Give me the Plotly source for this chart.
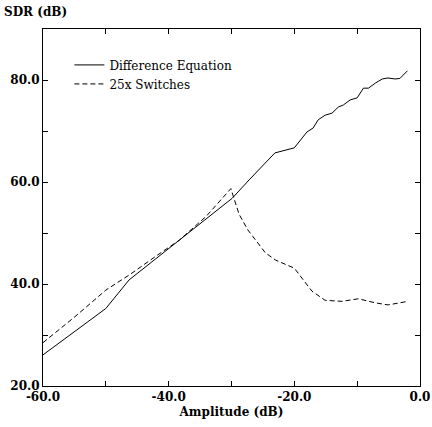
import plotly.graph_objects as go

# Difference Equation (solid)
diff_x = [-60, -50, -46.3, -38.3, -34.6, -29.9, -27.2, -23.1, -20, -18, -17, -16.2, -15.1, -14, -13,
          -12.2, -11.1, -10, -9, -8.2, -7.1, -6, -5.1, -4, -3.2, -2]
diff_y = [26.1, 35.2, 40.8, 48.6, 52.3, 56.8, 60.4, 65.7, 66.7, 69.8, 70.6, 72.2, 73.1, 73.5, 74.7,
          75.1, 76.1, 76.5, 78.4, 78.4, 79.4, 80.2, 80.4, 80.2, 80.3, 81.8]

# 25x Switches (dashed)
sw_x = [-60, -55, -50, -46, -42.1, -38.3, -34, -30.1, -28.8, -27.4, -24.6, -23, -20, -17.2, -15.1,
        -12.4, -9.8, -7.1, -5.1, -1.9]
sw_y = [28.5, 33.5, 38.8, 42.0, 45.4, 48.6, 53.3, 58.7, 53.7, 50.6, 46.1, 44.7, 43.1, 38.6, 36.8,
        36.6, 37.1, 36.3, 35.9, 36.6]

x_ticks = [-60, -50, -40, -30, -20, -10, 0]
x_labels = ["<b>-60.0</b>", "", "<b>-40.0</b>", "", "<b>-20.0</b>", "", "<b>0.0</b>"]
y_ticks = [20, 30, 40, 50, 60, 70, 80, 90]
y_labels = ["<b>20.0</b>", "", "<b>40.0</b>", "", "<b>60.0</b>", "", "<b>80.0</b>", ""]

font_family = "DejaVu Serif"

fig = go.Figure()
fig.add_trace(go.Scatter(x=diff_x, y=diff_y, mode="lines", name="Difference Equation",
                         line=dict(color="black", width=1)))
fig.add_trace(go.Scatter(x=sw_x, y=sw_y, mode="lines", name="25x Switches",
                         line=dict(color="black", width=1, dash="5px,3px")))

axis_common = dict(showgrid=False, zeroline=False, showline=True, linecolor="black", linewidth=1,
                   mirror="ticks", ticks="inside", ticklen=5, tickcolor="black", tickwidth=1,
                   automargin=False,
                   tickfont=dict(family=font_family, size=12, color="black"))

fig.update_layout(
    width=432, height=427,
    margin=dict(l=43, r=12, t=29, b=41),
    plot_bgcolor="white", paper_bgcolor="white",
    font=dict(family=font_family, color="black"),
    showlegend=True,
    legend=dict(x=0.07, y=0.94, xanchor="left", yanchor="top", bgcolor="rgba(0,0,0,0)",
                font=dict(family=font_family, size=12, color="black"), tracegroupgap=0),
    xaxis=dict(range=[-60, 0], tickvals=x_ticks, ticktext=x_labels,
               title=dict(text="<b>Amplitude (dB)</b>", font=dict(family=font_family, size=12, color="black"),
                          standoff=4),
               **axis_common),
    yaxis=dict(range=[20, 90], tickvals=y_ticks, ticktext=y_labels, **axis_common),
    annotations=[dict(text="<b>SDR (dB)</b>", xref="paper", yref="paper", x=-0.109, y=1.022,
                      xanchor="left", yanchor="bottom", showarrow=False,
                      font=dict(family=font_family, size=12, color="black"))],
)

fig.write_html("out.html")
